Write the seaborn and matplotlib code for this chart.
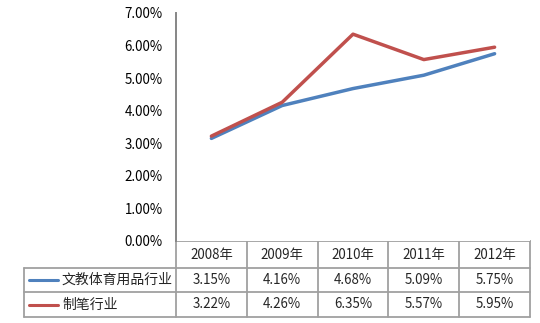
import matplotlib
matplotlib.use("Agg")
import matplotlib.pyplot as plt
import seaborn as sns
import pandas as pd
from matplotlib.lines import Line2D
from matplotlib.ticker import PercentFormatter

# Data
years = ["2008年", "2009年", "2010年", "2011年", "2012年"]
series_names = ["文教体育用品行业", "制笔行业"]
stationery_sports = [3.15, 4.16, 4.68, 5.09, 5.75]
pens = [3.22, 4.26, 6.35, 5.57, 5.95]
y_ticks = [0, 1, 2, 3, 4, 5, 6, 7]

colors = ["#4F81BD", "#C0504D"]
axis_gray = "#868686"
grid_gray = "#A0A0A0"

sns.set_theme(style="white")
plt.rcParams["font.family"] = ["Noto Sans CJK SC", "DejaVu Sans"]
FS = 9.6
FS_CJK = 10.0

W, H = 540, 323
fig = plt.figure(figsize=(W / 100, H / 100), dpi=100)

# Plot area in pixel bounds
left_px, right_px, top_px, bottom_px = 176, 530, 13, 241
ax = fig.add_axes([left_px / W, 1 - bottom_px / H,
                   (right_px - left_px) / W, (bottom_px - top_px) / H])

df = pd.DataFrame({
    "x": list(range(len(years))) * 2,
    "value": stationery_sports + pens,
    "series": [series_names[0]] * len(years) + [series_names[1]] * len(years),
})
sns.lineplot(data=df, x="x", y="value", hue="series", palette=colors,
             linewidth=2.5, ax=ax, legend=False, sort=False)

ax.set_xlim(-0.5, len(years) - 0.5)
ax.set_ylim(0, 7)
ax.set_yticks(y_ticks)
ax.yaxis.set_major_formatter(PercentFormatter(decimals=2))
ax.tick_params(axis="y", length=0, pad=9.5, labelsize=FS, colors="black")
ax.set_xticks([])
ax.set_xlabel("")
ax.set_ylabel("")
for side in ["top", "right", "bottom"]:
    ax.spines[side].set_visible(False)
ax.spines["left"].set_color(axis_gray)
ax.spines["left"].set_linewidth(1.4)

# Overlay in pixel coordinates for the data table
ov = fig.add_axes([0, 0, 1, 1], zorder=-1)
ov.set_xlim(0, W)
ov.set_ylim(H, 0)
ov.axis("off")

def col_px(v):
    return left_px + (v + 0.5) * (right_px - left_px) / len(years)

row_y = [241, 268, 292, 317]
legend_left = 24
lw = 1.3

# horizontal rules
ov.plot([left_px, right_px], [row_y[0], row_y[0]], color=grid_gray, lw=lw)
for y in row_y[1:]:
    ov.plot([legend_left, right_px], [y, y], color=grid_gray, lw=lw)
# vertical rules
for i in range(len(years) + 1):
    xv = col_px(i - 0.5)
    ov.plot([xv, xv], [row_y[0], row_y[-1]], color=grid_gray, lw=lw)
ov.plot([legend_left, legend_left], [row_y[1], row_y[-1]], color=grid_gray, lw=lw)

# header
for i, yr in enumerate(years):
    ov.text(col_px(i), (row_y[0] + row_y[1]) / 2 + 1, yr, ha="center",
            va="center", fontsize=FS)

# rows
for r, (name, vals) in enumerate(zip(series_names, [stationery_sports, pens])):
    yc = (row_y[r + 1] + row_y[r + 2]) / 2
    ov.add_line(Line2D([29, 58], [yc, yc], color=colors[r], lw=2.2))
    ov.text(62, yc, name, ha="left", va="center", fontsize=FS_CJK)
    for i, v in enumerate(vals):
        ov.text(col_px(i), yc, f"{v:.2f}%", ha="center", va="center",
                fontsize=FS)

fig.savefig("out.png", dpi=100)
